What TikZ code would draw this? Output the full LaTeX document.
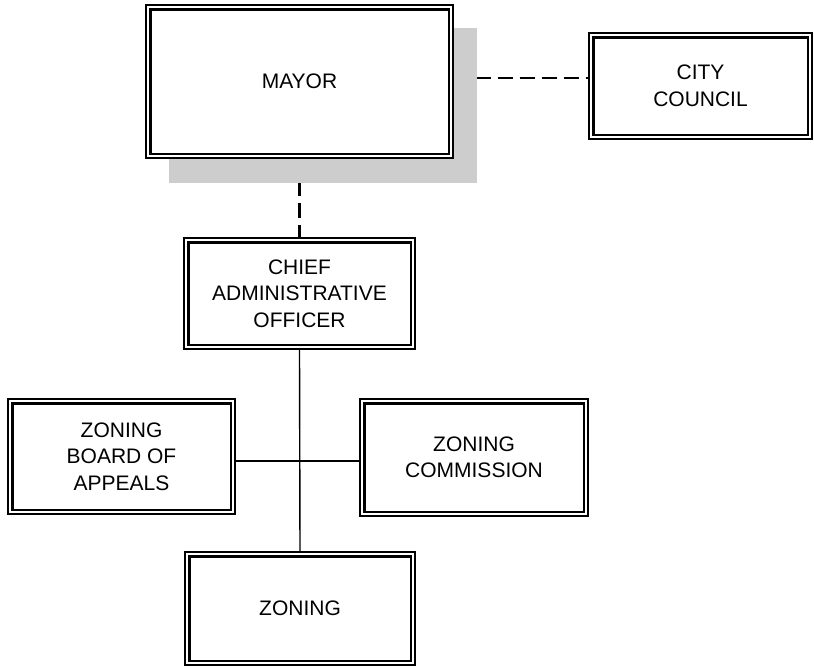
\documentclass[tikz,border=0pt]{standalone}
\usepackage{fontspec}
\setmainfont{Liberation Sans}
\pgfdeclarelayer{bg}
\pgfsetlayers{bg,main}
\definecolor{shadowgray}{HTML}{CDCDCD}
\begin{document}
\begin{tikzpicture}[x=1pt,y=-1pt,
  box/.style={draw, fill=white, line width=1.3pt, inner sep=0pt, align=center,
    font=\fontsize{21}{26.5}\selectfont},
  innerline/.style={line width=2.3pt},
  conn/.style={line width=1.4pt},
  dashconn/.style={line width=2.6pt, dash pattern=on 15pt off 7pt}]
\useasboundingbox (0,0) rectangle (814,667);

\node[box, minimum width=307pt, minimum height=153pt] (mayor) at (299.5,81.5) {MAYOR};
\node[box, minimum width=223pt, minimum height=106pt] (council) at (700.5,86) {CITY\\COUNCIL};
\node[box, minimum width=231pt, minimum height=111pt] (cao) at (299.5,293.5) {CHIEF\\ADMINISTRATIVE\\OFFICER};
\node[box, minimum width=227pt, minimum height=115pt] (zba) at (121.5,456.5) {ZONING\\BOARD OF\\APPEALS};
\node[box, minimum width=228pt, minimum height=117pt] (zc) at (474,457.5) {ZONING\\COMMISSION};
\node[box, minimum width=230pt, minimum height=113pt] (zoning) at (300,608.5) {ZONING};

\foreach \n in {mayor,council,cao,zba,zc,zoning}
  \draw[innerline] ([shift={(5pt,-5pt)}]\n.north west) rectangle ([shift={(-5pt,5pt)}]\n.south east);

\begin{pgfonlayer}{bg}
  \draw[dashconn] (mayor.south) -- (cao.north);
  \draw[dashconn] ([yshift=3.5pt]mayor.east) coordinate (m1) -- (m1 -| council.west);
  \fill[shadowgray] (169,28) rectangle (477,183);
  \draw[conn] (cao.south) -- (zoning.north);
  \draw[conn] ([yshift=-4.5pt]zba.east) coordinate (h1) -- (h1 -| zc.west);
\end{pgfonlayer}
\end{tikzpicture}
\end{document}
